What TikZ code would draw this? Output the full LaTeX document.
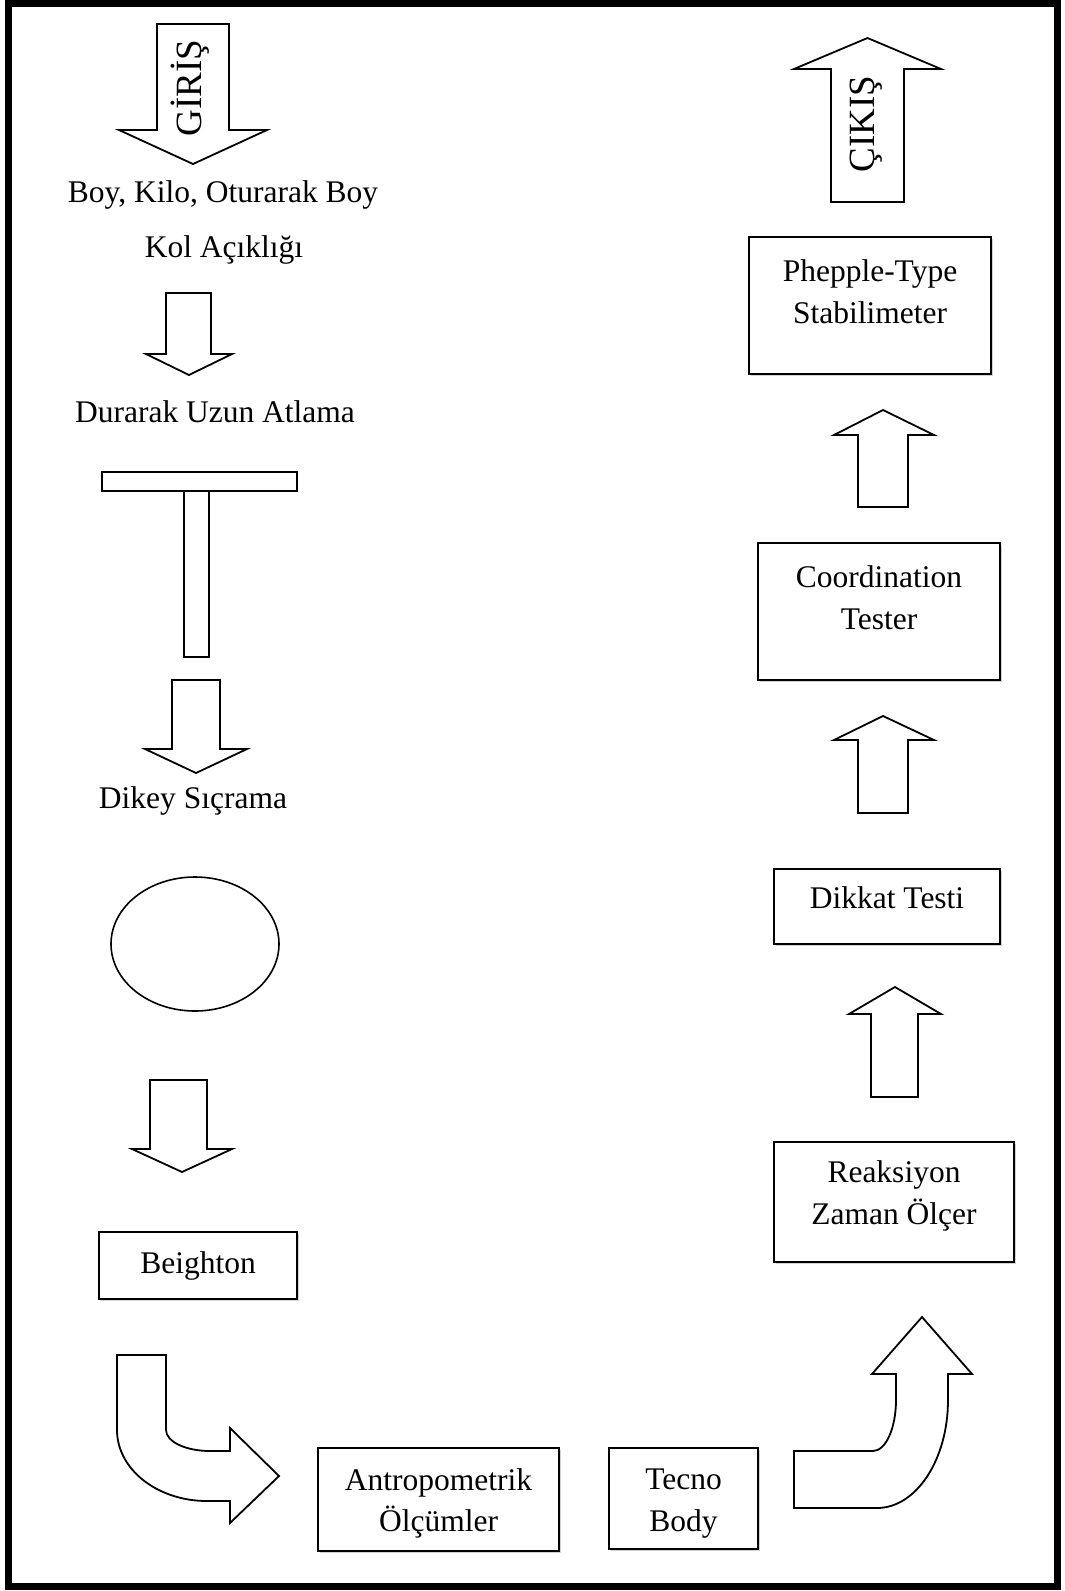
\documentclass[tikz,border=0pt]{standalone}
\usepackage{fontspec}
\setmainfont{Liberation Serif}
\usepackage{tikz}
\usetikzlibrary{shapes.geometric, shadows}
\tikzset{
  frame/.style={draw=black, line width=7pt},
  stagebox/.style={draw=black, line width=1.6pt, fill=white,
    drop shadow={shadow xshift=1.5pt, shadow yshift=-1.5pt, fill=black!35}},
  stagetext/.style={align=center, inner sep=0pt,
    font=\fontsize{31.5}{41.5}\selectfont},
  plaintext/.style={anchor=base, inner sep=0pt,
    font=\fontsize{31.5}{41.5}\selectfont},
  verttext/.style={rotate=90, inner sep=0pt,
    font=\fontsize{37}{40}\selectfont},
  blockarrow/.style={draw=black, line width=1.8pt, fill=white, line join=miter},
  ringshape/.style={draw=black, line width=1.6pt, ellipse, inner sep=0pt}
}
\begin{document}
\begin{tikzpicture}[x=1pt, y=-1pt]

  \path[use as bounding box, fill=white] (0,0) rectangle (1065,1591);
  \draw[frame] (8.5,3.5) rectangle (1057,1586);

  % left column, going down
  \draw[blockarrow] (157,24) -- (229,24) -- (229,130) -- (267,130) -- (193,164)
    -- (119,130) -- (157,130) -- cycle;
  \node[verttext] (giris) at (190,88) {GİRİŞ};

  \node[plaintext] (boy) at (223,202) {Boy, Kilo, Oturarak Boy};
  \node[plaintext] (kol) at (224,257) {Kol Açıklığı};

  \draw[blockarrow] (166,293) -- (211,293) -- (211,354) -- (232,354) -- (189,375)
    -- (146,354) -- (166,354) -- cycle;

  \node[plaintext] (durarak) at (215,422) {Durarak Uzun Atlama};

  \draw[blockarrow] (102,472) rectangle (297,491);
  \draw[blockarrow] (184,491) rectangle (209,657);

  \draw[blockarrow] (172,680) -- (220,680) -- (220,749) -- (247,749) -- (196,773)
    -- (145,749) -- (172,749) -- cycle;

  \node[plaintext] (dikey) at (193,808) {Dikey Sıçrama};

  \node[ringshape, minimum width=168pt, minimum height=134pt] (ring) at (195,944) {};

  \draw[blockarrow] (150,1080) -- (207,1080) -- (207,1149) -- (232,1149) -- (182,1172)
    -- (132,1149) -- (150,1149) -- cycle;

  \node[stagebox, minimum width=198pt, minimum height=67pt] (beighton) at (198,1265.5) {};
  \node[stagetext] (beightontxt) at (beighton.center) {Beighton};

  % bottom row
  \draw[blockarrow] (117,1355) -- (166,1355) -- (166,1430)
    .. controls (166,1441.6) and (185.7,1451) .. (210,1451)
    -- (230,1451) -- (230,1428) -- (279,1476) -- (230,1523) -- (230,1501) -- (207,1501)
    .. controls (157.3,1501) and (117,1469.2) .. (117,1430) -- cycle;

  \node[stagebox, minimum width=241pt, minimum height=103pt] (antro) at (438.5,1499.5) {};
  \node[stagetext, yshift=-4pt] (antrotxt) at (antro.center) {Antropometrik\\Ölçümler};

  \node[stagebox, minimum width=149pt, minimum height=101pt] (tecno) at (683.5,1498.5) {};
  \node[stagetext, yshift=-5pt] (tecnotxt) at (tecno.center) {Tecno\\Body};

  \draw[blockarrow] (794,1451) -- (873,1451)
    .. controls (885.7,1451) and (896,1428.2) .. (896,1400)
    -- (896,1374) -- (872,1374) -- (922,1317) -- (972,1374) -- (948,1374) -- (948,1400)
    .. controls (948,1459.6) and (916.2,1508) .. (877,1508)
    -- (794,1508) -- cycle;

  % right column, going up
  \node[stagebox, minimum width=240pt, minimum height=120pt] (reaksiyon) at (894,1202) {};
  \node[stagetext, yshift=6pt] (reaksiyontxt) at (reaksiyon.center) {Reaksiyon\\Zaman Ölçer};

  \draw[blockarrow] (871,1097) -- (918,1097) -- (918,1014) -- (941,1014) -- (895,987)
    -- (849,1014) -- (871,1014) -- cycle;

  \node[stagebox, minimum width=226pt, minimum height=75pt] (dikkat) at (887,906.5) {};
  \node[stagetext, yshift=8.5pt] (dikkattxt) at (dikkat.center) {Dikkat Testi};

  \draw[blockarrow] (858,813) -- (908,813) -- (908,740) -- (934,740) -- (883,716)
    -- (834,740) -- (858,740) -- cycle;

  \node[stagebox, minimum width=242pt, minimum height=137pt] (coord) at (879,611.5) {};
  \node[stagetext, yshift=14pt] (coordtxt) at (coord.center) {Coordination\\Tester};

  \draw[blockarrow] (858,507) -- (908,507) -- (908,435) -- (934,435) -- (883,410)
    -- (834,435) -- (858,435) -- cycle;

  \node[stagebox, minimum width=242pt, minimum height=137pt] (stab) at (870,305.5) {};
  \node[stagetext, yshift=14pt] (stabtxt) at (stab.center) {Phepple-Type\\Stabilimeter};

  \draw[blockarrow] (831,202) -- (904,202) -- (904,69) -- (941,69) -- (867.5,38)
    -- (794,69) -- (831,69) -- cycle;
  \node[verttext] (cikis) at (866,124) {ÇIKIŞ};

\end{tikzpicture}
\end{document}
